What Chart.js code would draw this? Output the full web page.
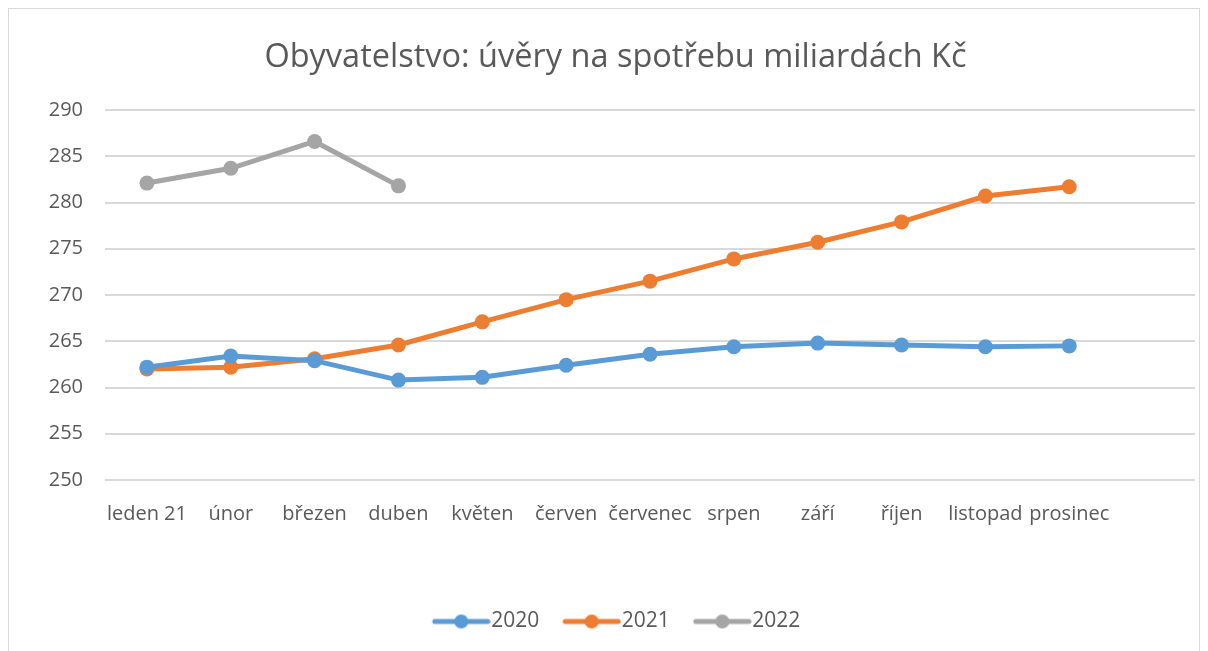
<!DOCTYPE html>
<html>
<head>
<meta charset="utf-8">
<script src="https://cdn.jsdelivr.net/npm/chart.js@4.4.0/dist/chart.umd.min.js"></script>
<style>
  html, body { margin: 0; padding: 0; background: #fff; }
  body { width: 1208px; height: 651px; position: relative; overflow: hidden; }
  #frame { position: absolute; left: 8px; top: 8px; width: 1192px; height: 700px; border: 1px solid #d9d9d9; box-sizing: border-box; }
  #wrap { position: absolute; left: 0; top: 0; width: 1208px; height: 651px; }
</style>
</head>
<body>
<div id="frame"></div>
<div id="wrap"><canvas id="uveryChart"></canvas></div>
<script>
const mesice = ['leden 21', 'únor', 'březen', 'duben', 'květen', 'červen', 'červenec', 'srpen', 'září', 'říjen', 'listopad', 'prosinec', ''];
const rok2020 = [262.2, 263.4, 262.9, 260.8, 261.1, 262.4, 263.6, 264.4, 264.8, 264.6, 264.4, 264.5];
const rok2021 = [262.0, 262.2, 263.1, 264.6, 267.1, 269.5, 271.5, 273.9, 275.7, 277.9, 280.7, 281.7];
const rok2022 = [282.1, 283.7, 286.6, 281.8];
const osaY = { min: 250, max: 290, krok: 5 };

const textColor = '#595959';

// legend marker: short line with a dot in the middle, shifted right so the text sits close
function legendMarker(color) {
    const c = document.createElement('canvas');
    c.width = 70;
    c.height = 16;
    const g = c.getContext('2d');
    g.strokeStyle = color;
    g.lineWidth = 5;
    g.lineCap = 'round';
    g.beginPath();
    g.moveTo(14, 8);
    g.lineTo(67, 8);
    g.stroke();
    g.fillStyle = color;
    g.beginPath();
    g.arc(40.5, 8, 7, 0, Math.PI * 2);
    g.fill();
    return c;
}

function serie(label, data, color) {
    return {
        label: label,
        data: data,
        borderColor: color,
        backgroundColor: color,
        borderWidth: 5,
        pointRadius: 7.5,
        pointHoverRadius: 7.5,
        pointBorderWidth: 0,
        pointStyle: 'circle',
        tension: 0,
        legendMarker: legendMarker(color)
    };
}

document.addEventListener('DOMContentLoaded', () => {
    const ctx = document.getElementById('uveryChart').getContext('2d');
    new Chart(ctx, {
        type: 'line',
        data: {
            labels: mesice,
            datasets: [
                serie('2020', rok2020, '#5B9BD5'),
                serie('2021', rok2021, '#ED7D31'),
                serie('2022', rok2022, '#A5A5A5')
            ]
        },
        options: {
            responsive: true,
            maintainAspectRatio: false,
            animation: false,
            layout: { padding: { left: 36, right: 13, top: 0, bottom: 9 } },
            plugins: {
                title: {
                    display: true,
                    text: 'Obyvatelstvo: úvěry na spotřebu miliardách Kč',
                    color: textColor,
                    font: { family: 'Open Sans', size: 32.5, weight: 'normal', lineHeight: 1.2 },
                    padding: { top: 38, bottom: 33 }
                },
                legend: {
                    position: 'bottom',
                    labels: {
                        color: textColor,
                        font: { family: 'Open Sans', size: 21 },
                        usePointStyle: true,
                        pointStyleWidth: 50,
                        padding: 22,
                        generateLabels: (chart) => chart.data.datasets.map((ds, i) => ({
                            text: ds.label,
                            pointStyle: ds.legendMarker,
                            fillStyle: ds.borderColor,
                            strokeStyle: ds.borderColor,
                            fontColor: textColor,
                            lineWidth: 0,
                            hidden: !chart.isDatasetVisible(i),
                            datasetIndex: i
                        }))
                    }
                },
                tooltip: { enabled: false }
            },
            scales: {
                x: {
                    offset: true,
                    grid: { display: false },
                    border: { display: false },
                    ticks: {
                        color: textColor,
                        font: { family: "'Liberation Sans Narrow', 'Open Sans'", size: 20 },
                        padding: 14,
                        maxRotation: 0,
                        autoSkip: false
                    },
                    afterFit: (scale) => { scale.height = 109; }
                },
                y: {
                    min: osaY.min,
                    max: osaY.max,
                    grid: { color: '#d9d9d9', lineWidth: 2, drawTicks: false },
                    border: { display: false },
                    ticks: {
                        stepSize: osaY.krok,
                        color: textColor,
                        font: { family: 'Open Sans', size: 20 },
                        padding: 22
                    },
                    afterFit: (scale) => { scale.width = 69; }
                }
            }
        }
    });
});
</script>
</body>
</html>
